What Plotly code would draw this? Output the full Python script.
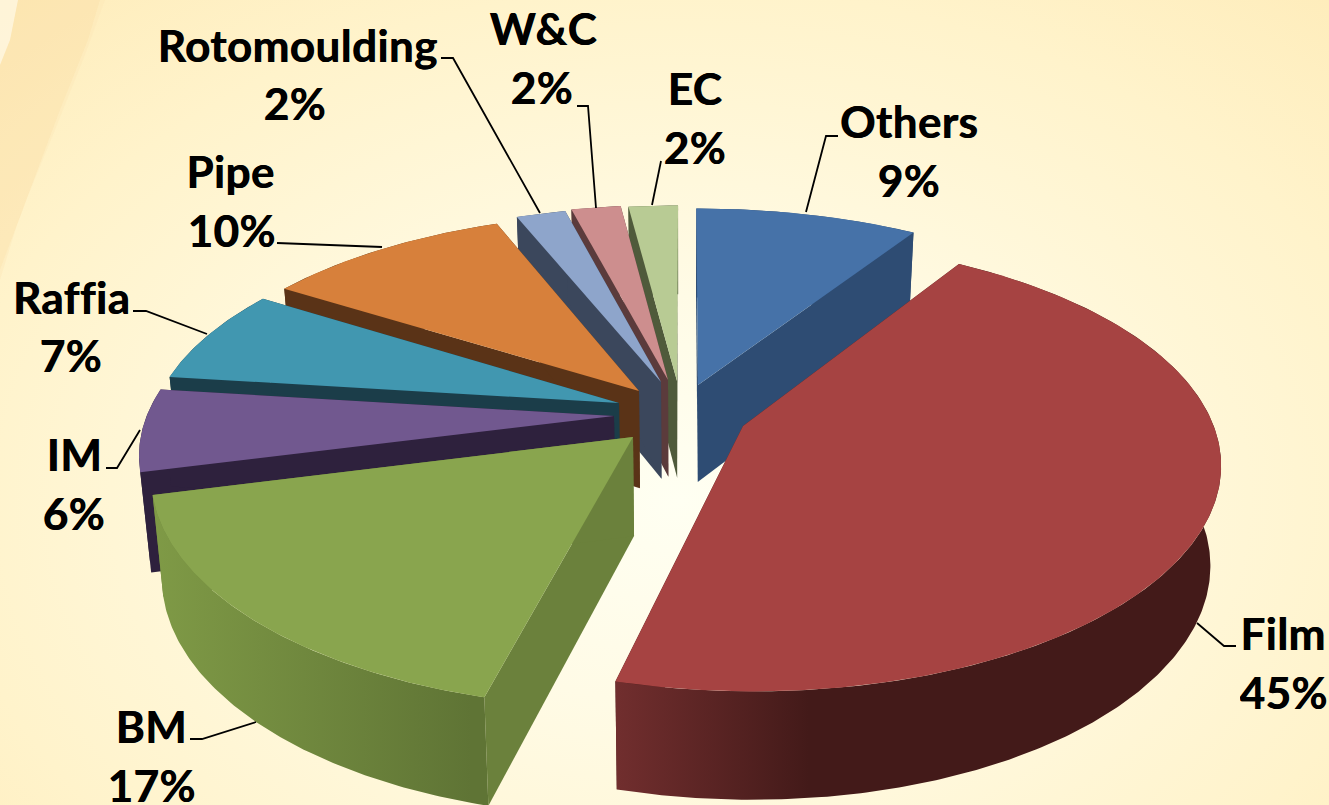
import numpy as np
import plotly.graph_objects as go

# ---- data (clockwise from 12 o'clock) ----
categories = ["Others", "Film", "BM", "IM", "Raffia", "Pipe", "Rotomoulding", "W&C", "EC"]
shares = [9, 45, 17, 6, 7, 10, 2, 2, 2]

# ---- styling ----
top_colors = ["#4672a8", "#a64342", "#89a54e", "#71588f", "#4197b0", "#d7803b", "#8ea5cb", "#cd8e8e", "#b8cb94"]
wall_colors = ["#2e4c73", "#4a1c1b", "#6b813c", "#2e213d", "#1b3d49", "#5a3317", "#3b475c", "#5b3b3c", "#4f5a3b"]
rim_left = ["#2e4c73", "#712e2e", "#7f9a46", "#2e213d", "#1b3d49", "#5a3317", "#3b475c", "#5b3b3c", "#4f5a3b"]
rim_right = ["#2e4c73", "#431a19", "#5f7435", "#2e213d", "#1b3d49", "#5a3317", "#3b475c", "#5b3b3c", "#4f5a3b"]
rim_stop = [1, 0.32, 0.95, 1, 1, 1, 1, 1, 1]

# where each exploded slice's tip sits, in page pixels
tip_x = [698, 743, 633, 614, 619, 639, 661, 668, 677]
tip_y = [385, 426, 437, 416, 403, 391, 382, 380, 381]
draw_order = [8, 7, 6, 5, 4, 3, 2, 0, 1]

name_x = [909, 1283, 151, 74, 71, 230, 297, 543, 695]
name_y = [121, 633, 726, 454, 297, 171, 45, 28, 88]
pct_x = [909, 1283, 151, 74, 71, 231, 295, 542, 695]
pct_y = [180, 692, 785, 513, 355, 230, 103, 87, 147]
leaders = [
    [(838, 136), (826, 136), (806, 212)],
    [(1236, 646), (1224, 646), (1197, 623)],
    [(190, 739), (202, 739), (256, 722)],
    [(106, 468), (117, 468), (140, 430)],
    [(133, 311), (146, 311), (207, 334)],
    [(277, 243), (382, 247)],
    [(441, 58), (453, 58), (540, 213)],
    [(577, 106), (588, 106), (596, 208)],
    [(661, 161), (652, 205)],
]

# ---- perspective used for the pie ----
CX, CY, A, B, K, KX = 685.0, 412.0, 466.0, 215.0, 0.17, 0.155
DEPTH, K2, CONV = 98.0, 0.09, 0.02


def project(X, Y, down):
    sx = CX + A * X / (1 + KX * Y) * (1 - CONV * down)
    sy = CY - B * Y / (1 + K * Y) + down * DEPTH / (1 + K2 * Y)
    return sx, sy


def invert(sx, sy):
    dy = CY - sy
    Y = dy / (B - K * dy)
    X = (sx - CX) * (1 + KX * Y) / A
    return X, Y


fig = go.Figure()


def poly(x, y, color=None, grad=None):
    x, y = list(x), list(y)
    kw = dict(x=x + x[:1], y=y + y[:1], mode="lines", line=dict(width=0), fill="toself",
              hoverinfo="skip", showlegend=False)
    if grad is not None:
        kw["fillgradient"] = grad
    else:
        kw["fillcolor"] = color
    fig.add_trace(go.Scatter(**kw))


# ---- background ----
poly([-650, 2010, 2010, -650], [-430, -430, 1430, 1430],
     grad=dict(type="radial",
               colorscale=[[0, "#fffff2"], [0.22, "#fffbe6"], [0.55, "#fff3cb"], [1, "#fde3a4"]]))
poly([0, 100, 88, 60, 30, 0], [0, 0, 40, 110, 190, 270], "rgba(251,218,160,0.38)")
poly([0, 18, 10, 0], [0, 0, 40, 65], "rgba(255,248,230,0.75)")
poly([100, 105, 85, 55, 20, 0, 0, 30, 60, 88], [0, 0, 55, 130, 215, 280, 270, 190, 110, 40], "rgba(252,230,180,0.35)")

# ---- pie ----
edges = np.cumsum([0] + shares) / sum(shares) * 2 * np.pi
for i in draw_order:
    X0, Y0 = invert(tip_x[i], tip_y[i])
    th = np.linspace(edges[i], edges[i + 1], max(8, shares[i] * 6))
    Xr, Yr = X0 + np.sin(th), Y0 + np.cos(th)
    tx, ty = project(Xr, Yr, 0.0)
    bx, by = project(Xr, Yr, 1.0)
    ax0, ay0 = project(X0, Y0, 0.0)
    ax1, ay1 = project(X0, Y0, 1.0)
    # the two radial walls
    poly([ax0, tx[0], bx[0], ax1], [ay0, ty[0], by[0], ay1], wall_colors[i])
    poly([ax0, tx[-1], bx[-1], ax1], [ay0, ty[-1], by[-1], ay1], wall_colors[i])
    # outer rim
    poly(np.r_[tx, bx[::-1]], np.r_[ty, by[::-1]],
         grad=dict(type="horizontal",
                   colorscale=[[0, rim_left[i]], [rim_stop[i], rim_right[i]], [1, rim_right[i]]]))
    # top
    poly(np.r_[ax0, tx], np.r_[ay0, ty], top_colors[i])

# ---- leader lines and labels ----
for pts in leaders:
    fig.add_trace(go.Scatter(x=[p[0] for p in pts], y=[p[1] for p in pts], mode="lines",
                             line=dict(color="#000000", width=1.8), hoverinfo="skip", showlegend=False))
font = dict(family="Lato, Carlito, Calibri, sans-serif", size=44, color="#000000", weight="bold",
            shadow="0.6px 0 0 #000000")
for i, c in enumerate(categories):
    fig.add_annotation(x=name_x[i], y=name_y[i], text=f"<b>{c}</b>", showarrow=False, font=font,
                       xanchor="center", yanchor="middle")
    fig.add_annotation(x=pct_x[i], y=pct_y[i], text=f"<b>{shares[i]}%</b>", showarrow=False, font=font,
                       xanchor="center", yanchor="middle", height=38, valign="middle")

fig.update_xaxes(range=[0, 1329], visible=False, fixedrange=True)
fig.update_yaxes(range=[805, 0], visible=False, fixedrange=True)
fig.update_layout(width=1329, height=805, margin=dict(l=0, r=0, t=0, b=0), showlegend=False,
                  paper_bgcolor="#fff6d8", plot_bgcolor="#fff6d8")
fig.write_html("out.html", config={"displayModeBar": False},
               post_script="document.body.style.margin='0';document.body.style.overflow='hidden';"
                           "var s=document.createElement('style');"
                           "s.textContent='svg text{letter-spacing:0.4px;font-variant-ligatures:none}';"
                           "document.head.appendChild(s);")
